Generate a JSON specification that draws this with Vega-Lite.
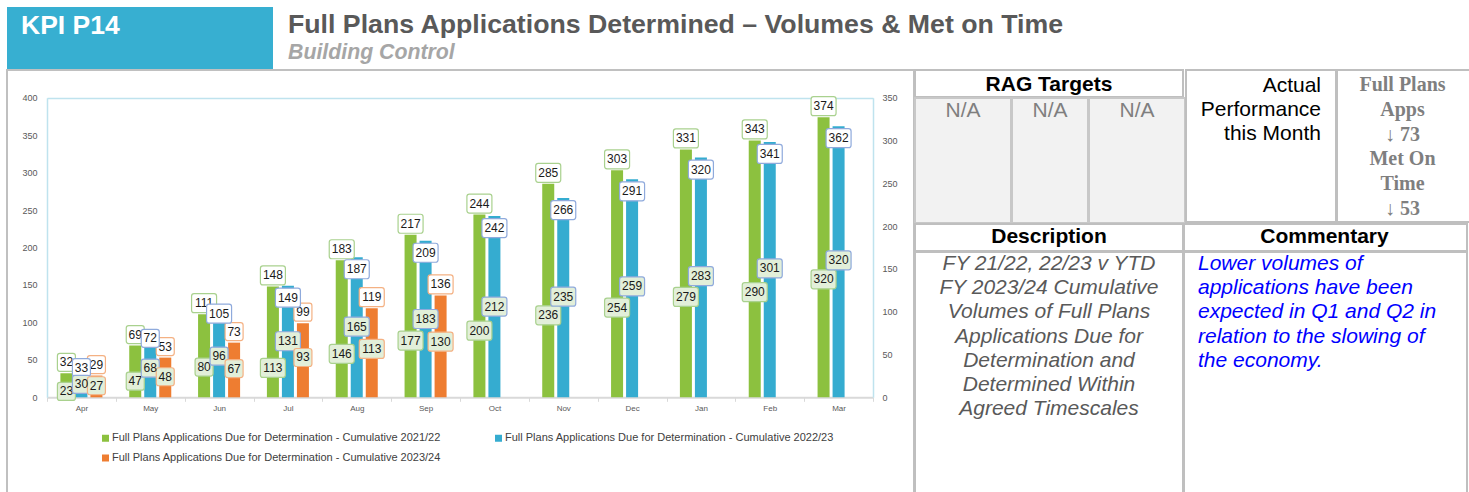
{
  "$schema": "https://vega.github.io/schema/vega-lite/v6.json",
  "padding": {"left": 6, "top": 7, "right": 0, "bottom": 0},
  "background": "white",
  "spacing": -2,
  "config": {
    "view": {"stroke": null},
    "concat": {"spacing": 0},
    "font": "Liberation Sans",
    "text": {"font": "Liberation Sans"}
  },
  "datasets": {
    "kpi": [
      {"month": "Apr", "series": "2021/22", "due": 32, "met": 23},
      {"month": "May", "series": "2021/22", "due": 69, "met": 47},
      {"month": "Jun", "series": "2021/22", "due": 111, "met": 80},
      {"month": "Jul", "series": "2021/22", "due": 148, "met": 113},
      {"month": "Aug", "series": "2021/22", "due": 183, "met": 146},
      {"month": "Sep", "series": "2021/22", "due": 217, "met": 177},
      {"month": "Oct", "series": "2021/22", "due": 244, "met": 200},
      {"month": "Nov", "series": "2021/22", "due": 285, "met": 236},
      {"month": "Dec", "series": "2021/22", "due": 303, "met": 254},
      {"month": "Jan", "series": "2021/22", "due": 331, "met": 279},
      {"month": "Feb", "series": "2021/22", "due": 343, "met": 290},
      {"month": "Mar", "series": "2021/22", "due": 374, "met": 320},
      {"month": "Apr", "series": "2022/23", "due": 33, "met": 30},
      {"month": "May", "series": "2022/23", "due": 72, "met": 68},
      {"month": "Jun", "series": "2022/23", "due": 105, "met": 96},
      {"month": "Jul", "series": "2022/23", "due": 149, "met": 131},
      {"month": "Aug", "series": "2022/23", "due": 187, "met": 165},
      {"month": "Sep", "series": "2022/23", "due": 209, "met": 183},
      {"month": "Oct", "series": "2022/23", "due": 242, "met": 212},
      {"month": "Nov", "series": "2022/23", "due": 266, "met": 235},
      {"month": "Dec", "series": "2022/23", "due": 291, "met": 259},
      {"month": "Jan", "series": "2022/23", "due": 320, "met": 283},
      {"month": "Feb", "series": "2022/23", "due": 341, "met": 301},
      {"month": "Mar", "series": "2022/23", "due": 362, "met": 320},
      {"month": "Apr", "series": "2023/24", "due": 29, "met": 27},
      {"month": "May", "series": "2023/24", "due": 53, "met": 48},
      {"month": "Jun", "series": "2023/24", "due": 73, "met": 67},
      {"month": "Jul", "series": "2023/24", "due": 99, "met": 93},
      {"month": "Aug", "series": "2023/24", "due": 119, "met": 113},
      {"month": "Sep", "series": "2023/24", "due": 136, "met": 130}
    ]
  },
  "vconcat": [
    {
      "spacing": 0,
      "hconcat": [
        {
          "width": 266, "height": 63,
          "view": {"fill": "#37afd1", "stroke": null},
          "data": {"values": [{"t": "KPI P14"}]},
          "mark": {"type": "text", "align": "left", "baseline": "middle", "dx": -119, "dy": -13, "fontSize": 26.5, "fontWeight": "bold", "color": "white", "font": "Liberation Sans"},
          "encoding": {"text": {"field": "t", "type": "nominal"}}
        },
        {
          "width": 1195, "height": 63,
          "layer": [
            {
              "data": {"values": [{"t": "Full Plans Applications Determined – Volumes & Met on Time"}]},
              "mark": {"type": "text", "align": "left", "baseline": "middle", "dx": -582.5, "dy": -13.5, "fontSize": 26.7, "fontWeight": "bold", "color": "#595959", "font": "Liberation Sans"},
              "encoding": {"text": {"field": "t", "type": "nominal"}}
            },
            {
              "data": {"values": [{"t": "Building Control"}]},
              "mark": {"type": "text", "align": "left", "baseline": "middle", "dx": -582.5, "dy": 14.5, "fontSize": 21.3, "fontWeight": "bold", "fontStyle": "italic", "color": "#a6a6a6", "font": "Liberation Sans"},
              "encoding": {"text": {"field": "t", "type": "nominal"}}
            }
          ]
        }
      ]
    },
    {
      "spacing": -4,
      "hconcat": [
        {
          "width": 907, "height": 426,
          "view": {"stroke": "#c0c0c0", "strokeWidth": 2, "fill": "white"},
          "data": {"name": "kpi"},
          "encoding": {
            "x": {
              "field": "month", "type": "nominal",
              "sort": ["Apr", "May", "Jun", "Jul", "Aug", "Sep", "Oct", "Nov", "Dec", "Jan", "Feb", "Mar"],
              "scale": {"domain": ["Apr", "May", "Jun", "Jul", "Aug", "Sep", "Oct", "Nov", "Dec", "Jan", "Feb", "Mar"], "range": [40, 866], "paddingInner": 0, "paddingOuter": 0},
              "axis": {"orient": "bottom", "offset": -98.7, "title": null, "labelAngle": 0, "tickBand": "extent", "tickSize": 4, "tickColor": "#d9d9d9", "domainColor": "#d9d9d9", "domainWidth": 2, "labelFontSize": 8, "labelColor": "#595959", "labelPadding": 3, "labelFont": "Liberation Sans"}
            },
            "xOffset": {"field": "series", "type": "nominal", "scale": {"domain": ["2021/22", "2022/23", "2023/24"], "paddingInner": 0.2, "paddingOuter": 0.893}}
          },
          "layer": [
            {
              "encoding": {
                "y": {
                  "field": "due", "type": "quantitative",
                  "scale": {"domain": [0, 400], "range": [327.3, 27.7], "nice": false, "zero": true},
                  "axis": {"orient": "left", "offset": -40, "title": null, "values": [0, 50, 100, 150, 200, 250, 300, 350, 400], "ticks": false, "labelPadding": 10, "labelFontSize": 9, "labelColor": "#595959", "labelFont": "Liberation Sans", "domainColor": "#bfe3ee", "domainWidth": 1.5, "grid": true, "gridWidth": 1.5, "gridColor": {"condition": {"test": "datum.value === 400", "value": "#bfe3ee"}, "value": "transparent"}}
                }
              },
              "layer": [
                {
                  "mark": {"type": "bar"},
                  "encoding": {
                    "color": {
                      "field": "series", "type": "nominal",
                      "scale": {"domain": ["2021/22", "2022/23", "2023/24"], "range": ["#8cc13f", "#35acd0", "#ee7d31"]},
                      "legend": {"orient": "none", "legendX": 93, "legendY": 425.5, "columns": 2, "direction": "horizontal", "title": null, "symbolType": "square", "symbolSize": 49, "symbolStrokeWidth": 0, "labelFontSize": 11, "labelColor": "#404040", "labelFont": "Liberation Sans", "labelLimit": 600, "columnPadding": 52, "rowPadding": 8, "labelOffset": 1, "padding": 0, "labelExpr": "'Full Plans Applications Due for Determination - Cumulative ' + datum.label"}
                    }
                  }
                },
                {
                  "transform": [{"filter": "datum.series !== '2022/23'"}],
                  "mark": {"type": "point", "filled": true, "fill": "white", "size": 4, "opacity": 1, "strokeWidth": 1.2, "yOffset": -11},
                  "encoding": {
                    "shape": {"condition": {"test": "datum.due >= 100", "value": "M-10,-9.5H10A2.5,2.5 0 0 1 12.5,-7V7A2.5,2.5 0 0 1 10,9.5H-10A2.5,2.5 0 0 1 -12.5,7V-7A2.5,2.5 0 0 1 -10,-9.5Z"}, "value": "M-6.5,-9H6.5A2.5,2.5 0 0 1 9,-6.5V6.5A2.5,2.5 0 0 1 6.5,9H-6.5A2.5,2.5 0 0 1 -9,6.5V-6.5A2.5,2.5 0 0 1 -6.5,-9Z"},
                    "stroke": {"condition": {"test": "datum.series === '2021/22'", "value": "#a9d18e"}, "value": "#f4b183"}
                  }
                },
                {
                  "transform": [{"filter": "datum.series !== '2022/23'"}],
                  "mark": {"type": "text", "fontSize": 12, "color": "#1a1a1a", "yOffset": -11, "font": "Liberation Sans"},
                  "encoding": {"text": {"field": "due", "type": "quantitative"}}
                },
                {
                  "transform": [{"filter": "datum.series === '2022/23' && datum.due < 120"}],
                  "mark": {"type": "point", "filled": true, "fill": "white", "size": 4, "opacity": 1, "strokeWidth": 1.2, "yOffset": -5},
                  "encoding": {
                    "shape": {"condition": {"test": "datum.due >= 100", "value": "M-10,-9.5H10A2.5,2.5 0 0 1 12.5,-7V7A2.5,2.5 0 0 1 10,9.5H-10A2.5,2.5 0 0 1 -12.5,7V-7A2.5,2.5 0 0 1 -10,-9.5Z"}, "value": "M-6.5,-9H6.5A2.5,2.5 0 0 1 9,-6.5V6.5A2.5,2.5 0 0 1 6.5,9H-6.5A2.5,2.5 0 0 1 -9,6.5V-6.5A2.5,2.5 0 0 1 -6.5,-9Z"},
                    "stroke": {"value": "#8faadc"}
                  }
                },
                {
                  "transform": [{"filter": "datum.series === '2022/23' && datum.due < 120"}],
                  "mark": {"type": "text", "fontSize": 12, "color": "#1a1a1a", "yOffset": -5, "font": "Liberation Sans"},
                  "encoding": {"text": {"field": "due", "type": "quantitative"}}
                },
                {
                  "transform": [{"filter": "datum.series === '2022/23' && datum.due >= 120"}],
                  "mark": {"type": "point", "filled": true, "fill": "white", "size": 4, "opacity": 1, "strokeWidth": 1.2, "yOffset": 12},
                  "encoding": {
                    "shape": {"value": "M-10,-9.5H10A2.5,2.5 0 0 1 12.5,-7V7A2.5,2.5 0 0 1 10,9.5H-10A2.5,2.5 0 0 1 -12.5,7V-7A2.5,2.5 0 0 1 -10,-9.5Z"},
                    "stroke": {"value": "#8faadc"}
                  }
                },
                {
                  "transform": [{"filter": "datum.series === '2022/23' && datum.due >= 120"}],
                  "mark": {"type": "text", "fontSize": 12, "color": "#1a1a1a", "yOffset": 12, "font": "Liberation Sans"},
                  "encoding": {"text": {"field": "due", "type": "quantitative"}}
                }
              ]
            },
            {
              "encoding": {
                "y": {
                  "field": "met", "type": "quantitative",
                  "scale": {"domain": [0, 700], "range": [327.3, 27.7], "nice": false, "zero": true},
                  "axis": {"orient": "right", "offset": -41, "title": null, "values": [0, 100, 200, 300, 400, 500, 600, 700], "labelExpr": "format(datum.value / 2, 'd')", "ticks": false, "labelPadding": 9, "labelFontSize": 9, "labelColor": "#595959", "labelFont": "Liberation Sans", "domainColor": "#bfe3ee", "domainWidth": 1.5, "grid": false}
                }
              },
              "layer": [
                {
                  "transform": [{"filter": "datum.series === '2021/22' && datum.met < 100"}],
                  "mark": {"type": "point", "filled": true, "fill": "#e2efd9", "size": 4, "opacity": 1, "strokeWidth": 1.2, "yOffset": 4},
                  "encoding": {
                    "shape": {"value": "M-6.5,-9H6.5A2.5,2.5 0 0 1 9,-6.5V6.5A2.5,2.5 0 0 1 6.5,9H-6.5A2.5,2.5 0 0 1 -9,6.5V-6.5A2.5,2.5 0 0 1 -6.5,-9Z"},
                    "stroke": {"value": "#a9d18e"}
                  }
                },
                {
                  "transform": [{"filter": "datum.series === '2021/22' && datum.met < 100"}],
                  "mark": {"type": "text", "fontSize": 12, "color": "#1a1a1a", "yOffset": 4, "font": "Liberation Sans"},
                  "encoding": {"text": {"field": "met", "type": "quantitative"}}
                },
                {
                  "transform": [{"filter": "datum.series === '2021/22' && datum.met >= 100"}],
                  "mark": {"type": "point", "filled": true, "fill": "#e2efd9", "size": 4, "opacity": 1, "strokeWidth": 1.2, "yOffset": 19},
                  "encoding": {
                    "shape": {"value": "M-10,-9.5H10A2.5,2.5 0 0 1 12.5,-7V7A2.5,2.5 0 0 1 10,9.5H-10A2.5,2.5 0 0 1 -12.5,7V-7A2.5,2.5 0 0 1 -10,-9.5Z"},
                    "stroke": {"value": "#a9d18e"}
                  }
                },
                {
                  "transform": [{"filter": "datum.series === '2021/22' && datum.met >= 100"}],
                  "mark": {"type": "text", "fontSize": 12, "color": "#1a1a1a", "yOffset": 19, "font": "Liberation Sans"},
                  "encoding": {"text": {"field": "met", "type": "quantitative"}}
                },
                {
                  "transform": [{"filter": "datum.series !== '2021/22'"}],
                  "mark": {"type": "point", "filled": true, "fill": "#e2efd9", "size": 4, "opacity": 1, "strokeWidth": 1.2},
                  "encoding": {
                    "shape": {"condition": {"test": "datum.met >= 100", "value": "M-10,-9.5H10A2.5,2.5 0 0 1 12.5,-7V7A2.5,2.5 0 0 1 10,9.5H-10A2.5,2.5 0 0 1 -12.5,7V-7A2.5,2.5 0 0 1 -10,-9.5Z"}, "value": "M-6.5,-9H6.5A2.5,2.5 0 0 1 9,-6.5V6.5A2.5,2.5 0 0 1 6.5,9H-6.5A2.5,2.5 0 0 1 -9,6.5V-6.5A2.5,2.5 0 0 1 -6.5,-9Z"},
                    "stroke": {"condition": {"test": "datum.series === '2022/23'", "value": "#8faadc"}, "value": "#f4b183"}
                  }
                },
                {
                  "transform": [{"filter": "datum.series !== '2021/22'"}],
                  "mark": {"type": "text", "fontSize": 12, "color": "#1a1a1a", "font": "Liberation Sans"},
                  "encoding": {"text": {"field": "met", "type": "quantitative"}}
                }
              ]
            }
          ],
          "resolve": {"scale": {"y": "independent"}, "axis": {"y": "independent"}}
        },
        {
          "spacing": -4,
          "vconcat": [
            {
              "spacing": -4,
              "hconcat": [
                {
                  "spacing": -4,
                  "vconcat": [
                    {
                      "width": 268, "height": 27,
                      "view": {"stroke": "#bfbfbf", "strokeWidth": 2, "fill": "white"},
                      "data": {"values": [{"t": "RAG Targets"}]},
                      "mark": {"type": "text", "baseline": "middle", "dy": 1, "fontSize": 21, "fontWeight": "bold", "color": "black"},
                      "encoding": {"text": {"field": "t", "type": "nominal"}}
                    },
                    {
                      "spacing": -4,
                      "hconcat": [
                        {
                          "width": 96, "height": 125,
                          "view": {"stroke": "#c8c8c8", "strokeWidth": 2, "fill": "#f2f2f2"},
                          "data": {"values": [{"t": "N/A"}]},
                          "mark": {"type": "text", "baseline": "middle", "dy": -50, "fontSize": 21, "color": "#7f7f7f"},
                          "encoding": {"text": {"field": "t", "type": "nominal"}}
                        },
                        {
                          "width": 76, "height": 125,
                          "view": {"stroke": "#c8c8c8", "strokeWidth": 2, "fill": "#f2f2f2"},
                          "data": {"values": [{"t": "N/A"}]},
                          "mark": {"type": "text", "baseline": "middle", "dy": -50, "fontSize": 21, "color": "#7f7f7f"},
                          "encoding": {"text": {"field": "t", "type": "nominal"}}
                        },
                        {
                          "width": 96, "height": 125,
                          "view": {"stroke": "#c8c8c8", "strokeWidth": 2, "fill": "#f2f2f2"},
                          "data": {"values": [{"t": "N/A"}]},
                          "mark": {"type": "text", "baseline": "middle", "dy": -50, "fontSize": 21, "color": "#7f7f7f"},
                          "encoding": {"text": {"field": "t", "type": "nominal"}}
                        }
                      ]
                    }
                  ]
                },
                {
                  "width": 150, "height": 152,
                  "view": {"stroke": "#bfbfbf", "strokeWidth": 2, "fill": "white"},
                  "data": {"values": [{"t": "Actual\nPerformance\nthis Month"}]},
                  "mark": {"type": "text", "align": "right", "baseline": "top", "dx": 60, "dy": -70.6, "fontSize": 21, "lineHeight": 24, "lineBreak": "\n", "color": "black"},
                  "encoding": {"text": {"field": "t", "type": "nominal"}}
                },
                {
                  "width": 133, "height": 152,
                  "view": {"stroke": "#bfbfbf", "strokeWidth": 2, "fill": "white"},
                  "data": {"values": [{"t": "Full Plans\nApps\n↓ 73\nMet On\nTime\n↓ 53"}]},
                  "mark": {"type": "text", "align": "center", "baseline": "top", "dx": -1, "dy": -71, "fontSize": 20, "lineHeight": 24.8, "lineBreak": "\n", "font": "Liberation Serif", "fontWeight": "bold", "color": "#7f7f7f"},
                  "encoding": {"text": {"field": "t", "type": "nominal"}}
                }
              ]
            },
            {
              "spacing": -4,
              "hconcat": [
                {
                  "spacing": -4,
                  "vconcat": [
                    {
                      "width": 268, "height": 27,
                      "view": {"stroke": "#bfbfbf", "strokeWidth": 2, "fill": "white"},
                      "data": {"values": [{"t": "Description"}]},
                      "mark": {"type": "text", "baseline": "middle", "dy": -1, "fontSize": 21, "fontWeight": "bold", "color": "black"},
                      "encoding": {"text": {"field": "t", "type": "nominal"}}
                    },
                    {
                      "width": 268, "height": 247,
                      "view": {"stroke": "#bfbfbf", "strokeWidth": 2, "fill": "white"},
                      "data": {"values": [{"t": "FY 21/22, 22/23 v YTD\nFY 2023/24 Cumulative\nVolumes of Full Plans\nApplications Due for\nDetermination and\nDetermined Within\nAgreed Timescales"}]},
                      "mark": {"type": "text", "align": "center", "baseline": "top", "dy": -122.8, "fontSize": 21, "lineHeight": 24.3, "lineBreak": "\n", "fontStyle": "italic", "color": "#595959"},
                      "encoding": {"text": {"field": "t", "type": "nominal"}}
                    }
                  ]
                },
                {
                  "spacing": -4,
                  "vconcat": [
                    {
                      "width": 283, "height": 27,
                      "view": {"stroke": "#bfbfbf", "strokeWidth": 2, "fill": "white"},
                      "data": {"values": [{"t": "Commentary"}]},
                      "mark": {"type": "text", "baseline": "middle", "dx": -1, "dy": -1, "fontSize": 21, "fontWeight": "bold", "color": "black"},
                      "encoding": {"text": {"field": "t", "type": "nominal"}}
                    },
                    {
                      "width": 283, "height": 247,
                      "view": {"stroke": "#bfbfbf", "strokeWidth": 2, "fill": "white"},
                      "data": {"values": [{"t": "Lower volumes of\napplications have been\nexpected in Q1 and Q2 in\nrelation to the slowing of\nthe economy."}]},
                      "mark": {"type": "text", "align": "left", "baseline": "top", "dx": -127.5, "dy": -122.8, "fontSize": 21, "lineHeight": 24.3, "lineBreak": "\n", "fontStyle": "italic", "color": "#0000ff"},
                      "encoding": {"text": {"field": "t", "type": "nominal"}}
                    }
                  ]
                }
              ]
            }
          ]
        }
      ]
    }
  ]
}
